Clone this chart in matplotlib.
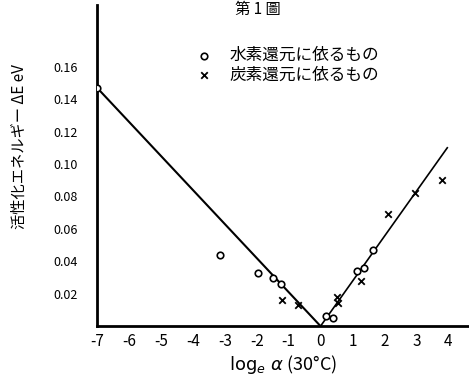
import matplotlib
matplotlib.use("Agg")
import matplotlib.pyplot as plt

plt.rcParams['font.family'] = ['Noto Sans CJK JP', 'DejaVu Sans']

# hydrogen reduction (circles)
h_x = [-7.0, -3.16, -1.97, -1.5, -1.25, 0.16, 0.4, 1.15, 1.37, 1.65]
h_y = [0.147, 0.044, 0.033, 0.030, 0.026, 0.006, 0.005, 0.034, 0.036, 0.047]

# carbon reduction (crosses)
c_x = [-1.22, -0.72, 0.5, 0.56, 1.28, 2.1, 2.97, 3.8]
c_y = [0.016, 0.013, 0.018, 0.014, 0.028, 0.069, 0.082, 0.090]

# fitted lines
left_x = [-7.0, 0.0]
left_y = [0.147, 0.0]
right_x = [0.0, 3.97]
right_y = [0.0, 0.11]

xticks = [-7, -6, -5, -4, -3, -2, -1, 0, 1, 2, 3, 4]
yticks = [0.02, 0.04, 0.06, 0.08, 0.10, 0.12, 0.14, 0.16]

fig = plt.figure(figsize=(4.69, 3.92), dpi=100)
ax = fig.add_axes([0.207, 0.168, 0.793, 0.819])

ax.plot(left_x, left_y, color='black', lw=1.5)
ax.plot(right_x, right_y, color='black', lw=1.2)
h = ax.scatter(h_x, h_y, s=22, facecolors='white', edgecolors='black', linewidths=1.2, zorder=3)
c = ax.scatter(c_x, c_y, s=22, marker='x', color='black', linewidths=1.3, zorder=3)

ax.set_xlim(-7, 4.65)
ax.set_ylim(0, 0.198)
ax.set_xticks(xticks)
ax.set_xticklabels([str(t) for t in xticks], fontsize=11, style='italic')
ax.set_yticks(yticks)
ax.set_yticklabels(['%.2f' % t for t in yticks], fontsize=9, style='italic')
ax.tick_params(length=0, pad=14)
ax.tick_params(axis='x', pad=5)
for s in ['top', 'right']:
    ax.spines[s].set_visible(False)
ax.spines['left'].set_linewidth(2)
ax.spines['bottom'].set_linewidth(2)

ax.set_xlabel(r'$\log_e\,\alpha$ (30°C)', fontsize=13, labelpad=2)
ax.set_ylabel('活性化エネルギー ΔE eV', fontsize=11)
ax.yaxis.set_label_coords(-0.185, 0.56)

ax.legend([h, c], ['水素還元に依るもの', '炭素還元に依るもの'], loc='upper center',
          bbox_to_anchor=(0.5, 0.89), frameon=False, fontsize=12,
          handletextpad=0.5, labelspacing=0.15, borderaxespad=0)

fig.text(0.55, 0.997, '第 1 圖', ha='center', va='top', fontsize=11)

fig.savefig('out.png', dpi=100)
